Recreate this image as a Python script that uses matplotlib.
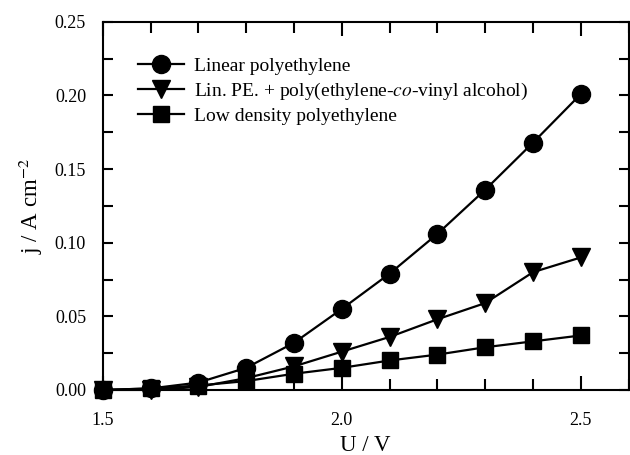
import numpy as np
import matplotlib
matplotlib.use("Agg")
import matplotlib.pyplot as plt
from matplotlib.ticker import MultipleLocator, FormatStrFormatter

plt.rcParams['font.family'] = ['Liberation Serif', 'DejaVu Serif']
plt.rcParams['mathtext.fontset'] = 'stix'

U = [1.5, 1.6, 1.7, 1.8, 1.9, 2.0, 2.1, 2.2, 2.3, 2.4, 2.5]
linear_pe = [0.000, 0.001, 0.005, 0.015, 0.032, 0.055, 0.079, 0.106, 0.136, 0.168, 0.201]
lin_pe_evoh = [0.000, 0.000, 0.002, 0.008, 0.016, 0.026, 0.036, 0.048, 0.059, 0.080, 0.090]
ldpe = [0.000, 0.001, 0.003, 0.006, 0.011, 0.015, 0.020, 0.024, 0.029, 0.033, 0.037]

labels = ['Linear polyethylene',
          'Lin. PE. + poly(ethylene-$\\it{co}$-vinyl alcohol)',
          'Low density polyethylene']

fig = plt.figure(figsize=(6.3, 4.55), dpi=100)
ax = fig.add_axes([0.163, 0.143, 0.835, 0.809])

ax.plot(U, linear_pe, 'k-', marker='o', markersize=13, linewidth=1.6, label=labels[0], clip_on=False)
ax.plot(U, lin_pe_evoh, 'k-', marker='v', markersize=13, linewidth=1.6, label=labels[1], clip_on=False)
ax.plot(U, ldpe, 'k-', marker='s', markersize=11, linewidth=1.6, label=labels[2], clip_on=False)

ax.set_xlim(1.5, 2.6)
ax.set_ylim(0, 0.25)
ax.xaxis.set_major_locator(MultipleLocator(0.5))
ax.xaxis.set_minor_locator(MultipleLocator(0.1))
ax.yaxis.set_major_locator(MultipleLocator(0.05))
ax.yaxis.set_minor_locator(MultipleLocator(0.025))
ax.xaxis.set_major_formatter(FormatStrFormatter('%.1f'))
ax.yaxis.set_major_formatter(FormatStrFormatter('%.2f'))
ax.tick_params(which='both', direction='in', top=True, right=True, width=1.5, labelsize=13)
ax.tick_params(axis='x', which='major', length=10, pad=16)
ax.tick_params(axis='x', which='minor', length=8)
ax.tick_params(axis='y', which='both', length=7, pad=12)
for s in ax.spines.values():
    s.set_linewidth(1.5)

ax.set_xlabel('U / V', fontsize=16.5, labelpad=4)
ax.set_ylabel('j / A cm$^{-2}$', fontsize=16.5, labelpad=7)

leg = ax.legend(loc='upper left', bbox_to_anchor=(0.052, 0.925), frameon=False, fontsize=14,
                handlelength=2.4, handletextpad=0.5, labelspacing=0.3, borderaxespad=0)

fig.savefig('out.png', dpi=100)
